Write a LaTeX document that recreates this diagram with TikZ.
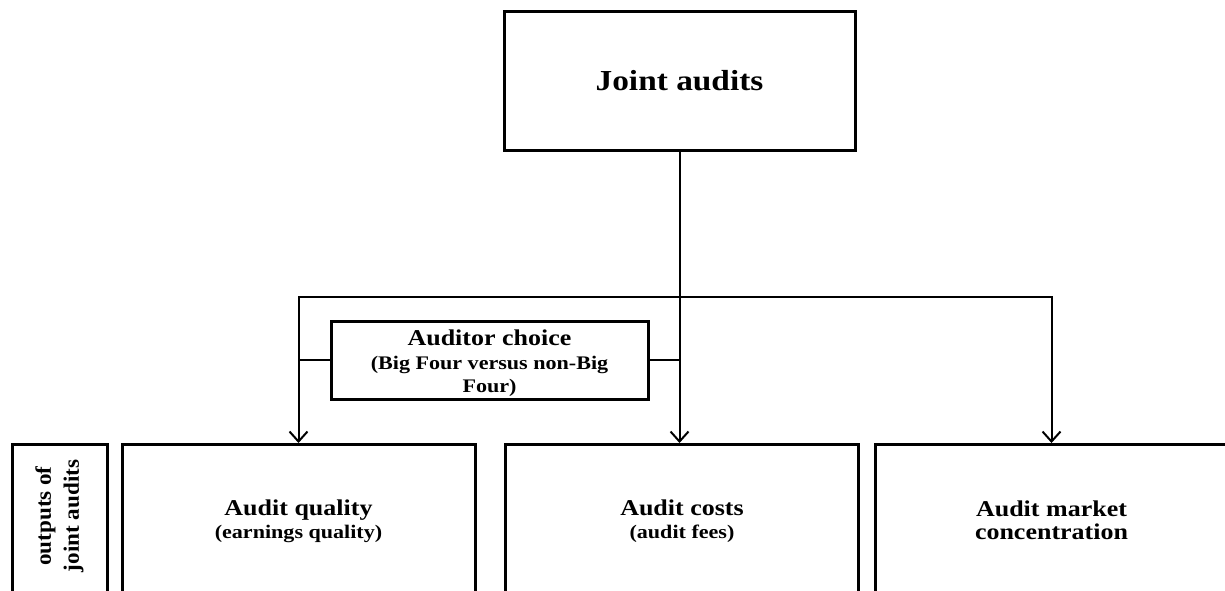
\documentclass[tikz,border=0pt]{standalone}
\usepackage{fontspec}
\setmainfont{Liberation Serif}[FakeStretch=1.15]
\newfontfamily\sidefont{Liberation Serif}[FakeStretch=1.05]
\usetikzlibrary{arrows.meta}

\newcommand\subtxt[1]{{\fontsize{9.6}{11}\selectfont #1}}

\begin{document}
\begin{tikzpicture}[x=0.5pt, y=-0.5pt,
        >={Straight Barb[length=5pt,width=9pt]},
        every node/.style={align=center},
        box/.style={draw, line width=1.5pt, inner sep=0pt},
        outbox/.style={box, anchor=north, minimum width=176.5pt, minimum height=100pt},
        maintext/.style={font=\bfseries\fontsize{11.3}{11.5}\selectfont},
        link/.style={line width=1pt}
    ]
    \clip (0,0) rectangle (1225,590);

    % Top box
    \node[box, minimum width=175.5pt, minimum height=69.5pt,
          font=\bfseries\fontsize{14.5}{17}\selectfont] (joint) at (679.5,80.5) {Joint audits};

    % Auditor choice box between the branches
    \node[box, maintext, minimum width=158.5pt, minimum height=39pt] (choice) at (489.5,360) {};
    \node[maintext] (choice-txt) at (489.5,363)
        {Auditor choice\\[0.5pt]\subtxt{(Big Four versus non-Big}\\\subtxt{Four)}};

    % Output boxes, cut by the lower edge
    \node[outbox] (quality) at (298.5,443) {};
    \node[outbox] (costs) at (682,443) {};
    \node[outbox] (market) at (1051.5,443) {};
    \node[box, anchor=north, minimum width=47.5pt, minimum height=100pt] (outputs) at (59.5,443) {};

    % Texts of the output boxes
    \node[maintext] (quality-txt) at (298.5,521) {Audit quality\\\subtxt{(earnings quality)}};
    \node[maintext] (costs-txt) at (682,521) {Audit costs\\\subtxt{(audit fees)}};
    \node[maintext] (market-txt) at (1051.5,520) {Audit market\\concentration};
    \node[rotate=90, font=\sidefont\bfseries\fontsize{11}{14}\selectfont] (outputs-txt) at (59.5,516)
        {outputs of\\joint audits};

    % Branches
    \coordinate (busL) at (298.5,297);
    \coordinate (busR) at (1051.5,297);
    \draw[link, <->] (quality.north) -- (busL) -- (busR) -- (market.north);
    \draw[link, ->] (joint.south) -- (joint.south |- costs.north);
    \draw[link] (choice.west) -- (choice.west -| busL);
    \draw[link] (choice.east) -- (choice.east -| joint.south);
\end{tikzpicture}
\end{document}
